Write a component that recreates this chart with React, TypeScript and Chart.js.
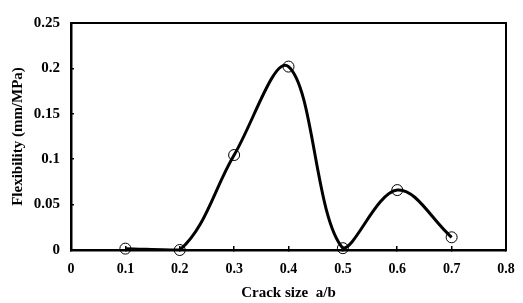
import React, { useEffect, useRef } from 'react';
import { Chart, registerables } from 'chart.js';

Chart.register(...registerables);

const crackSize = [0.1, 0.2, 0.3, 0.4, 0.5, 0.6, 0.7];
const flexibility = [0.0015, 0, 0.1046, 0.202, 0.002, 0.066, 0.014];
const xTickLabels = ['0', '0.1', '0.2', '0.3', '0.4', '0.5', '0.6', '0.7', '0.8'];
const yTickLabels = ['0', '0.05', '0.1', '0.15', '0.2', '0.25'];
const xTitle = 'Crack size  a/b';
const yTitle = 'Flexibility (mm/MPa)';

const FAMILY = "'Liberation Serif', 'Times New Roman', serif";

export default function App() {
  const ref = useRef<HTMLCanvasElement>(null);

  useEffect(() => {
    if (!ref.current) return;
    const font = (size: number) => ({ family: FAMILY, weight: 'bold' as const, size, lineHeight: 1.2 });
    const pts = crackSize.map((x, i) => ({ x, y: flexibility[i] }));
    const chart = new Chart(ref.current, {
      type: 'line',
      data: {
        datasets: [
          {
            data: pts,
            showLine: false,
            pointRadius: 5.5,
            pointBorderWidth: 1,
            pointBorderColor: '#000',
            pointBackgroundColor: 'rgba(0,0,0,0)',
            clip: false as any,
          },
          {
            data: pts,
            borderColor: '#000',
            borderWidth: 3,
            tension: 0.36,
            pointRadius: 0,
            fill: false,
            clip: { left: 5, right: 5, top: 5, bottom: 0 } as any,
          },
        ],
      },
      options: {
        animation: false,
        responsive: false,
        devicePixelRatio: 1,
        layout: { padding: { top: 11, right: 17, left: 0, bottom: 0 } },
        plugins: { legend: { display: false }, tooltip: { enabled: false } },
        elements: { line: { capBezierPoints: true } },
        scales: {
          x: {
            type: 'linear',
            position: 'bottom',
            min: 0,
            max: 0.8,
            ticks: {
              stepSize: 0.1,
              color: '#000',
              font: font(14),
              padding: 15,
              maxRotation: 0,
              callback: (_v: any, i: number) => xTickLabels[i],
            },
            grid: { drawOnChartArea: false, drawTicks: true, tickLength: -4, color: '#000', lineWidth: 1.5 },
            border: { color: '#000', width: 2.5 },
            title: { display: true, text: xTitle, color: '#000', font: font(15), padding: { top: 0, bottom: 1 } },
            afterFit: (s: any) => { s.height = 53; s.paddingRight = 0; s.paddingLeft = 0; },
          },
          y: {
            type: 'linear',
            position: 'left',
            min: 0,
            max: 0.25,
            ticks: {
              stepSize: 0.05,
              color: '#000',
              font: font(15),
              padding: 14,
              callback: (_v: any, i: number) => yTickLabels[i],
            },
            grid: { drawOnChartArea: false, drawTicks: true, tickLength: -3, color: '#000', lineWidth: 1.5 },
            border: { color: '#000', width: 2.5 },
            title: { display: true, text: yTitle, color: '#000', font: font(15), padding: { top: 9, bottom: 0 } },
            afterFit: (s: any) => { s.width = 71; },
          },
          x2: {
            type: 'linear',
            position: 'top',
            min: 0,
            max: 0.8,
            ticks: { display: false },
            grid: { display: false, drawTicks: false },
            border: { color: '#000', width: 2 },
            afterFit: (s: any) => { s.height = 0; },
          },
          y2: {
            type: 'linear',
            position: 'right',
            min: 0,
            max: 0.25,
            ticks: { display: false },
            grid: { display: false, drawTicks: false },
            border: { color: '#000', width: 2 },
            afterFit: (s: any) => { s.width = 0; },
          },
        },
      } as any,
    });
    return () => chart.destroy();
  }, []);

  return (
    <div style={{ position: 'absolute', left: 0, top: 0, width: 523, height: 303, background: '#fff' }}>
      <canvas ref={ref} width={523} height={303} style={{ display: 'block' }} />
    </div>
  );
}
